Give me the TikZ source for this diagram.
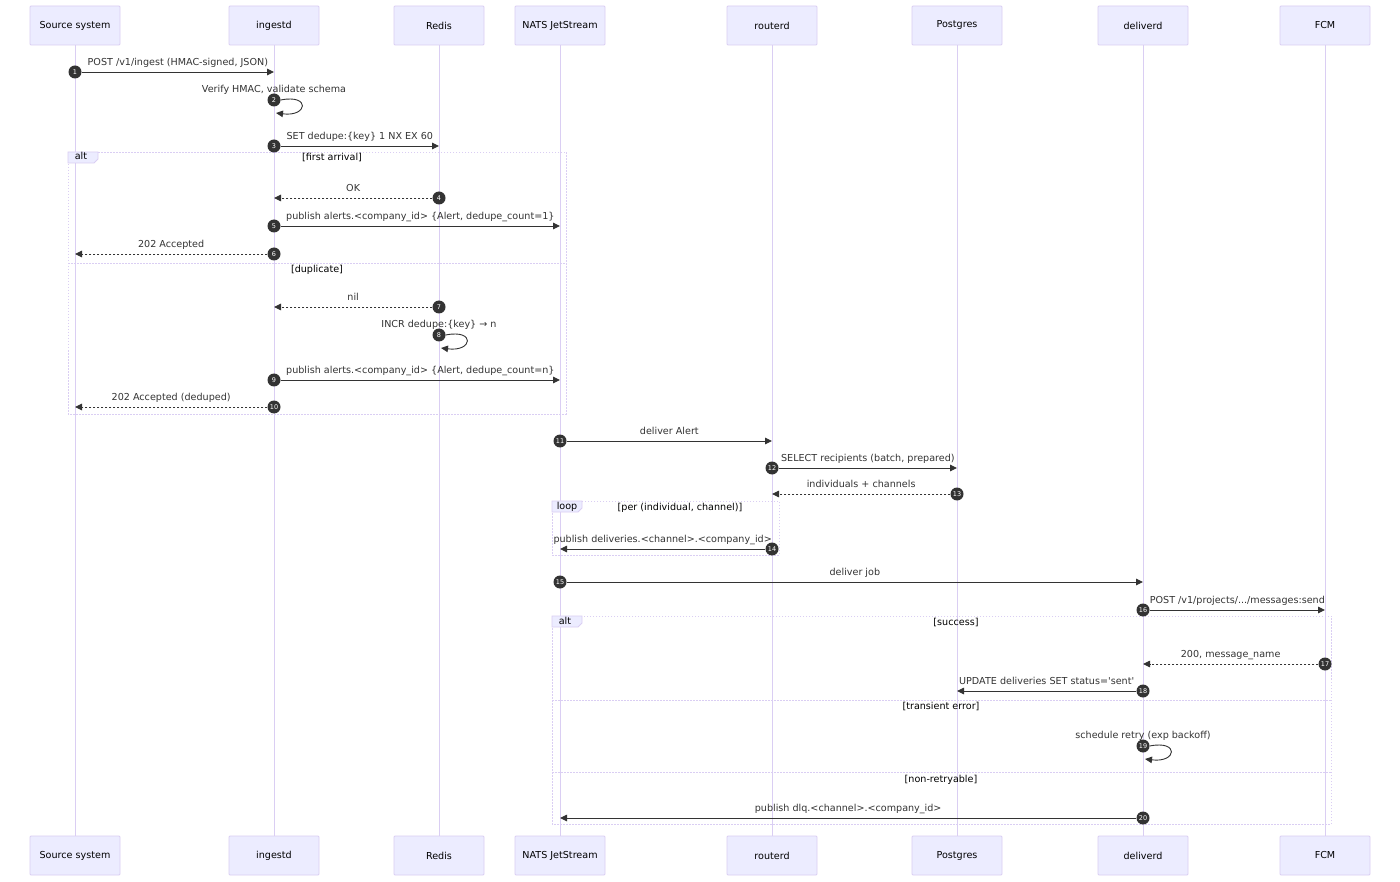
\documentclass[tikz,border=0pt]{standalone}
\usepackage{fontspec}
\setmainfont{DejaVu Sans}
\usepackage{tikz}
\usetikzlibrary{arrows.meta,calc}

\definecolor{actfill}{HTML}{ECECFF}
\definecolor{actline}{HTML}{DACEF3}
\definecolor{sig}{HTML}{333333}

\begin{document}
\begin{tikzpicture}[x=1pt,y=-1pt,
    actor/.style={draw=actline,fill=actfill,line width=0.8pt,minimum width=90pt,minimum height=39pt,
      rounded corners=1pt,font=\fontsize{9.6}{11}\selectfont,text=black},
    life/.style={draw=actline,line width=1pt},
    msg/.style={draw=sig,line width=0.9pt,-{Triangle[length=7pt,width=6.5pt]}},
    reply/.style={msg,dash pattern=on 2pt off 2pt},
    num/.style={circle,fill=sig,text=white,inner sep=0pt,minimum size=13pt,
      font=\fontsize{6.5}{6.5}\selectfont},
    lbl/.style={font=\fontsize{9.6}{11}\selectfont,text=sig,inner sep=0.5pt,text height=7pt,text depth=2pt},
    frame/.style={draw=actline,line width=0.9pt,dash pattern=on 1.5pt off 1.5pt},
    tab/.style={draw=actline,fill=actfill,line width=0.8pt},
    sect/.style={font=\fontsize{9.6}{11}\selectfont,text=black,text height=7pt,text depth=2pt}]
    \fill[white] (0,0) rectangle (1400,882);
    \useasboundingbox (0,0) rectangle (1400,882);

    \foreach \nm/\xx/\txt in {src/75/Source system,ing/274/ingestd,red/439/Redis,
      nats/560/NATS JetStream,rout/772/routerd,pg/957/Postgres,dlv/1143/deliverd,fcm/1325/FCM}{
      \node[actor] (\nm) at (\xx,25.5) {\txt};
      \node[actor] (\nm B) at (\xx,855.5) {\txt};
      \draw[life] (\nm) -- (\nm B);
    }

    % frames
    \draw[frame] (68,152) rectangle (566,414);
    \draw[frame] (68,263) -- (566,263);
    \draw[tab] (68,152) -- (98,152) -- (98,159) -- (94,163) -- (68,163) -- cycle;
    \draw
    (81,157.5) node[sect]{alt}
    (332,158) node[sect]{[first arrival]}
    (317,270) node[sect]{[duplicate]}
    ;
    \draw[frame] (552,501) rectangle (779,555);
    \draw[tab] (552,501) -- (582,501) -- (582,508) -- (578,512) -- (552,512) -- cycle;
    \draw
    (567,506.5) node[sect]{loop}
    (680,508) node[sect]{[per (individual, channel)]}
    ;
    \draw[frame] (552,616) rectangle (1331,824);
    \draw[frame] (552,700) -- (1331,700);
    \draw[frame] (552,772) -- (1331,772);
    \draw[tab] (552,616) -- (582,616) -- (582,623) -- (578,627) -- (552,627) -- cycle;
    \draw
    (565,621.5) node[sect]{alt}
    (956,623) node[sect]{[success]}
    (941,707) node[sect]{[transient error]}
    (941,780) node[sect]{[non-retryable]}
    ;

    % messages
    \node[num] (n1) at (src |- 0,72) {1};
    \draw[msg] (n1) -- (ing |- n1) node[lbl,midway,yshift=9pt]{POST /v1/ingest (HMAC-signed, JSON)};
    \node[num] (n2) at (ing |- 0,100) {2};
    \draw[msg] (n2.east) .. controls +(30,-6) and +(32,4) .. ($(n2)+(2,13)$);
    \node[lbl] at ($(n2)+(0,-10)$) {Verify HMAC, validate schema};
    \node[num] (n3) at (ing |- 0,146) {3};
    \draw[msg] (n3) -- (red |- n3) node[lbl,midway,yshift=9pt]{SET dedupe:\{key\} 1 NX EX 60};

    \node[num] (n4) at (red |- 0,198) {4};
    \draw[reply] (n4) -- (ing |- n4) node[lbl,midway,yshift=9pt]{OK};
    \node[num] (n5) at (ing |- 0,226) {5};
    \draw[msg] (n5) -- (nats |- n5) node[lbl,midway,yshift=9pt]{publish alerts.<company\_id> \{Alert, dedupe\_count=1\}};
    \node[num] (n6) at (ing |- 0,254) {6};
    \draw[reply] (n6) -- (src |- n6) node[lbl,midway,yshift=9pt]{202 Accepted};

    \node[num] (n7) at (red |- 0,307) {7};
    \draw[reply] (n7) -- (ing |- n7) node[lbl,midway,yshift=9pt]{nil};
    \node[num] (n8) at (red |- 0,335) {8};
    \draw[msg] (n8.east) .. controls +(30,-6) and +(32,4) .. ($(n8)+(2,13)$);
    \node[lbl] at ($(n8)+(0,-10)$) {INCR dedupe:\{key\} → n};
    \node[num] (n9) at (ing |- 0,380) {9};
    \draw[msg] (n9) -- (nats |- n9) node[lbl,midway,yshift=9pt]{publish alerts.<company\_id> \{Alert, dedupe\_count=n\}};
    \node[num] (n10) at (ing |- 0,407) {10};
    \draw[reply] (n10) -- (src |- n10) node[lbl,midway,yshift=9pt]{202 Accepted (deduped)};

    \node[num] (n11) at (nats |- 0,441) {11};
    \draw[msg] (n11) -- (rout |- n11) node[lbl,midway,yshift=9pt]{deliver Alert};
    \node[num] (n12) at (rout |- 0,468) {12};
    \draw[msg] (n12) -- (pg |- n12) node[lbl,midway,yshift=9pt]{SELECT recipients (batch, prepared)};
    \node[num] (n13) at (pg |- 0,494) {13};
    \draw[reply] (n13) -- (rout |- n13) node[lbl,midway,yshift=9pt]{individuals + channels};
    \node[num] (n14) at (rout |- 0,549) {14};
    \draw[msg] (n14) -- (nats |- n14) node[lbl,midway,yshift=9pt]{publish deliveries.<channel>.<company\_id>};

    \node[num] (n15) at (nats |- 0,582) {15};
    \draw[msg] (n15) -- (dlv |- n15) node[lbl,midway,yshift=9pt]{deliver job};
    \node[num] (n16) at (dlv |- 0,610) {16};
    \draw[msg] (n16) -- (fcm |- n16) node[lbl,midway,yshift=9pt]{POST /v1/projects/.../messages:send};
    \node[num] (n17) at (fcm |- 0,664) {17};
    \draw[reply] (n17) -- (dlv |- n17) node[lbl,midway,yshift=9pt]{200, message\_name};
    \node[num] (n18) at (dlv |- 0,691) {18};
    \draw[msg] (n18) -- (pg |- n18) node[lbl,midway,yshift=9pt]{UPDATE deliveries SET status=\textquotesingle sent\textquotesingle};
    \node[num] (n19) at (dlv |- 0,746) {19};
    \draw[msg] (n19.east) .. controls +(30,-6) and +(32,4) .. ($(n19)+(2,13)$);
    \node[lbl] at ($(n19)+(0,-10)$) {schedule retry (exp backoff)};
    \node[num] (n20) at (dlv |- 0,818) {20};
    \draw[msg] (n20) -- (nats |- n20) node[lbl,midway,yshift=9pt]{publish dlq.<channel>.<company\_id>};
\end{tikzpicture}
\end{document}
